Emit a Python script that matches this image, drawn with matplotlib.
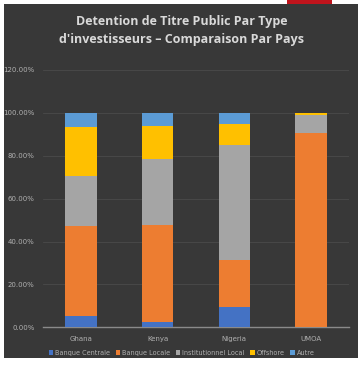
#!/usr/bin/env python3

from matplotlib import pyplot as pl
from matplotlib.patches import Rectangle
from matplotlib.ticker import PercentFormatter
import numpy as np

pays = ['Ghana', 'Kenya', 'Nigeria', 'UMOA']
series = ['Banque Centrale', 'Banque Locale', 'Institutionnel Local', 'Offshore', 'Autre']

banque_centrale = [5.4, 2.6, 9.6, 0.0]
banque_locale = [41.8, 45.1, 21.9, 90.7]
institutionnel = [23.3, 30.7, 53.3, 8.4]
offshore = [23.0, 15.4, 9.9, 0.9]
autre = [6.5, 6.2, 5.3, 0.0]

colors = ['#4472C4', '#ED7D31', '#A5A5A5', '#FFC000', '#5B9BD5']
values = [banque_centrale, banque_locale, institutionnel, offshore, autre]

fig = pl.figure(figsize=(3.63, 3.72), dpi=100, facecolor='white')

# dark slide background
fig.patches.append(Rectangle((4 / 363, 1 - 358 / 372), 354 / 363, 354 / 372,
                             transform=fig.transFigure, facecolor='#383838',
                             edgecolor='none', zorder=-2))
fig.patches.append(Rectangle((287 / 363, 1 - 4 / 372), 45 / 363, 4 / 372,
                             transform=fig.transFigure, facecolor='#c0141c',
                             edgecolor='none', zorder=-2))

ax = fig.add_axes([0.118, 0.120, 0.844, 0.692])
ax.set_facecolor('none')
ax.set_zorder(1)

x = np.arange(len(pays))
bottom = np.zeros(len(pays))
for name, vals, c in zip(series, values, colors):
    ax.bar(x, vals, 0.41, bottom=bottom, color=c, label=name, zorder=3)
    bottom += np.array(vals)

ax.set_xlim(-0.5, 3.5)
ax.set_ylim(0, 120)
ax.set_yticks(np.arange(0, 121, 20))
ax.yaxis.set_major_formatter(PercentFormatter(decimals=2))
ax.set_xticks(x)
ax.set_xticklabels(pays)
ax.tick_params(colors='#b0b0b0', labelsize=5, length=0, pad=6)
ax.grid(axis='y', color='#4a4a4a', linewidth=0.6, zorder=0)
for s in ['top', 'right', 'left']:
    ax.spines[s].set_visible(False)
ax.spines['bottom'].set_color('#8a8a8a')
ax.spines['bottom'].set_linewidth(1.0)

fig.text(0.5, 1 - 21 / 372, 'Detention de Titre Public Par Type',
         ha='center', va='center', color='#d9d9d9', fontsize=9,
         fontweight='bold', family='Open Sans', zorder=2)
fig.text(0.5, 1 - 39 / 372, "d'investisseurs \u2013 Comparaison Par Pays",
         ha='center', va='center', color='#d9d9d9', fontsize=9,
         fontweight='bold', family='Open Sans', zorder=2)

ax.legend(loc='center', bbox_to_anchor=(0.5, 1 - 353 / 372),
          bbox_transform=fig.transFigure, ncol=5, frameon=False,
          fontsize=4.7, labelcolor='#b0b0b0', handlelength=0.7,
          handleheight=0.7, handletextpad=0.25, columnspacing=0.9)

fig.savefig('out.png', dpi=100)
